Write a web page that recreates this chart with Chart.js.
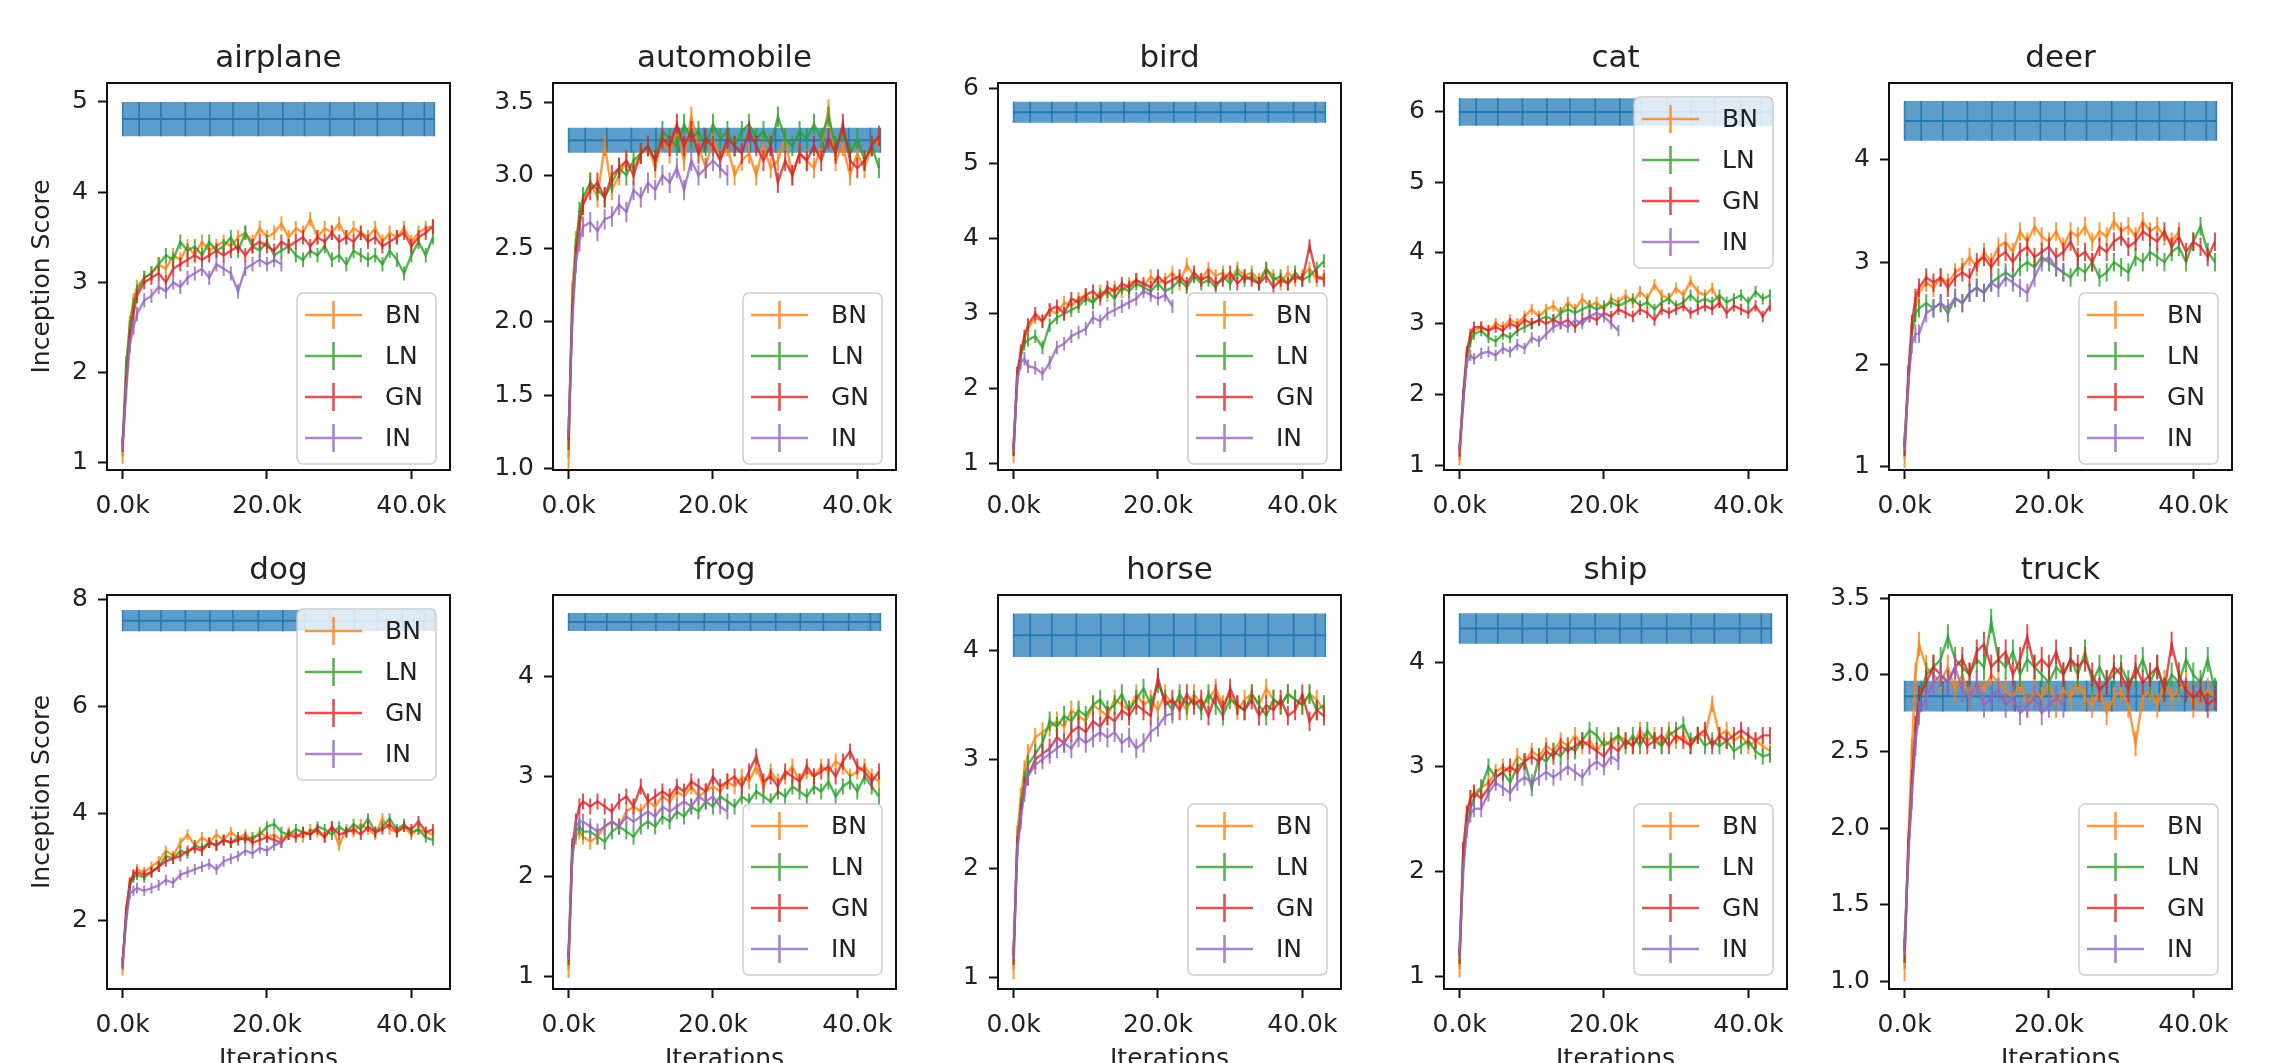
<!DOCTYPE html>
<html>
<head>
<meta charset="utf-8">
<script src="https://cdn.jsdelivr.net/npm/chart.js@4.4.1/dist/chart.umd.min.js"></script>
<style>
html, body { margin: 0; padding: 0; background: #fff; overflow: hidden; }
#fig { position: relative; width: 2277px; height: 1063px; overflow: hidden; background: #fff; }
#fig canvas { position: absolute; }
</style>
</head>
<body>
<div id="fig"></div>
<script>
// ---- data (iterations in thousands) ----
const classes = ['airplane', 'automobile', 'bird', 'cat', 'deer', 'dog', 'frog', 'horse', 'ship', 'truck'];
const seriesNames = ['BN', 'LN', 'GN', 'IN'];
const iters = [0, 0.5, 1, 1.5, 2, 3,
  4, 5, 6, 7, 8, 9, 10, 11, 12, 13,
  14, 15, 16, 17, 18, 19, 20, 21, 22, 23,
  24, 25, 26, 27, 28, 29, 30, 31, 32, 33,
  34, 35, 36, 37, 38, 39, 40, 41, 42, 43];
const realIters = [0, 2.3, 5.3, 8.7, 12.1, 15.3, 18.8, 22.2, 25.2, 28.7, 32.1, 35.3, 38.8, 41.8, 43.2];
const realMean = [4.81, 3.24, 5.68, 5.99, 4.38, 7.61, 4.54, 4.14, 4.32, 2.86];
const realStd = [0.19, 0.085, 0.14, 0.195, 0.195, 0.2, 0.09, 0.2, 0.145, 0.1];
const errSize = [0.08, 0.07, 0.09, 0.08, 0.09, 0.1, 0.08, 0.09, 0.08, 0.08];
const xTicks = [0, 20, 40];
const yMin = [0.92, 0.99, 0.92, 0.93, 0.97, 0.71, 0.88, 0.89, 0.88, 0.95];
const yMax = [5.21, 3.63, 6.07, 6.40, 4.75, 8.09, 4.81, 4.51, 4.64, 3.52];
const yTicks = [
  [1, 2, 3, 4, 5], [1, 1.5, 2, 2.5, 3, 3.5], [1, 2, 3, 4, 5, 6], [1, 2, 3, 4, 5, 6], [1, 2, 3, 4],
  [2, 4, 6, 8], [1, 2, 3, 4], [1, 2, 3, 4], [1, 2, 3, 4], [1, 1.5, 2, 2.5, 3, 3.5]
];
const yDecimals = [0, 1, 0, 0, 0, 0, 0, 0, 0, 1];

const airplaneBN = [1.07,2.0,2.55,2.8,2.95,3.05,
  3.1,3.2,3.15,3.3,3.25,3.4,3.3,3.45,3.35,3.4,
  3.45,3.4,3.5,3.55,3.45,3.6,3.5,3.55,3.65,3.5,
  3.6,3.55,3.7,3.5,3.6,3.55,3.65,3.5,3.6,3.55,
  3.5,3.6,3.45,3.55,3.5,3.6,3.45,3.55,3.6,3.62];
const airplaneLN = [1.2,2.1,2.5,2.75,2.9,3.05,
  3.1,3.2,3.3,3.25,3.45,3.35,3.4,3.3,3.45,3.35,
  3.4,3.5,3.35,3.55,3.4,3.35,3.45,3.3,3.35,3.4,
  3.3,3.25,3.35,3.3,3.4,3.25,3.3,3.2,3.35,3.3,
  3.25,3.3,3.2,3.35,3.25,3.1,3.3,3.45,3.3,3.5];
const airplaneGN = [1.2,1.9,2.4,2.65,2.85,3.0,
  3.05,3.1,3.0,3.15,3.2,3.25,3.3,3.25,3.3,3.35,
  3.3,3.35,3.4,3.3,3.4,3.45,3.4,3.35,3.45,3.4,
  3.45,3.5,3.4,3.5,3.45,3.55,3.45,3.5,3.45,3.55,
  3.45,3.5,3.4,3.45,3.5,3.55,3.4,3.5,3.55,3.62];
const airplaneIN = [1.2,1.8,2.3,2.5,2.65,2.8,
  2.85,2.95,2.9,3.0,2.95,3.05,3.1,3.15,3.05,3.2,
  3.15,3.1,2.9,3.15,3.2,3.25,3.2,3.25,3.2];

const automobileBN = [1.07,2.2,2.55,2.7,2.8,2.95,
  2.85,3.2,2.9,3.0,3.1,3.05,3.15,3.2,3.05,3.25,
  3.15,3.3,3.1,3.4,3.2,3.05,3.25,3.1,3.2,3.0,
  3.1,3.15,3.0,3.2,3.05,3.1,3.25,3.0,3.15,3.1,
  3.05,3.2,3.45,3.1,3.2,3.0,3.15,3.05,3.2,3.25];
const automobileLN = [1.2,2.1,2.5,2.75,2.85,2.95,
  2.9,2.85,2.95,3.05,3.0,3.1,3.15,3.2,3.1,3.3,
  3.25,3.2,3.35,3.25,3.3,3.2,3.35,3.25,3.3,3.2,
  3.3,3.35,3.25,3.3,3.2,3.4,3.25,3.2,3.3,3.25,
  3.35,3.25,3.4,3.2,3.3,3.15,3.25,3.1,3.2,3.05];
const automobileGN = [1.2,2.05,2.45,2.65,2.8,2.9,
  2.95,2.85,3.0,3.05,3.1,3.0,3.15,3.2,3.1,3.25,
  3.2,3.35,3.2,3.3,3.15,3.25,3.2,3.1,3.25,3.2,
  3.15,3.3,3.2,3.1,3.2,2.95,3.1,3.0,3.15,3.1,
  3.2,3.1,3.25,3.15,3.35,3.1,3.05,3.1,3.2,3.27];
const automobileIN = [1.28,2.0,2.4,2.55,2.65,2.68,
  2.62,2.7,2.72,2.8,2.75,2.9,2.85,2.95,2.9,3.0,
  2.95,3.05,2.9,3.1,3.0,3.05,3.1,3.05,3.0];

const birdBN = [1.1,2.2,2.45,2.65,2.8,2.95,
  2.9,3.05,3.0,3.15,3.1,3.2,3.25,3.15,3.3,3.25,
  3.35,3.3,3.4,3.45,3.35,3.5,3.4,3.45,3.55,3.4,
  3.65,3.5,3.45,3.6,3.5,3.55,3.45,3.6,3.5,3.55,
  3.45,3.6,3.5,3.4,3.55,3.45,3.5,3.6,3.45,3.5];
const birdLN = [1.2,2.15,2.45,2.6,2.65,2.7,
  2.55,2.85,2.95,3.0,3.05,3.1,3.2,3.15,3.25,3.3,
  3.2,3.35,3.3,3.4,3.35,3.3,3.4,3.3,3.35,3.45,
  3.35,3.5,3.4,3.45,3.35,3.5,3.4,3.55,3.45,3.5,
  3.4,3.6,3.45,3.5,3.4,3.55,3.45,3.5,3.6,3.7];
const birdGN = [1.2,2.2,2.5,2.7,2.85,3.0,
  2.9,3.05,3.1,3.0,3.2,3.15,3.25,3.3,3.2,3.35,
  3.3,3.4,3.35,3.45,3.4,3.35,3.5,3.4,3.45,3.5,
  3.4,3.55,3.45,3.5,3.4,3.45,3.55,3.4,3.5,3.45,
  3.4,3.5,3.35,3.45,3.4,3.5,3.45,3.9,3.5,3.45];
const birdIN = [1.25,2.1,2.35,2.4,2.3,2.28,
  2.2,2.35,2.55,2.6,2.7,2.75,2.8,2.95,2.9,3.0,
  3.05,3.1,3.15,3.2,3.3,3.25,3.2,3.25,3.1];

const catBN = [1.07,1.9,2.55,2.8,2.9,2.95,
  2.9,3.0,2.95,3.05,3.0,3.1,3.2,3.1,3.2,3.25,
  3.15,3.3,3.2,3.35,3.25,3.3,3.2,3.35,3.3,3.4,
  3.3,3.45,3.35,3.55,3.4,3.35,3.5,3.4,3.6,3.45,
  3.4,3.5,3.3];
const catLN = [1.2,1.95,2.5,2.75,2.85,2.9,
  2.8,2.75,2.85,2.8,2.9,2.95,3.0,3.05,3.1,3.05,
  3.15,3.2,3.15,3.2,3.25,3.2,3.25,3.3,3.25,3.3,
  3.35,3.25,3.3,3.2,3.3,3.35,3.25,3.3,3.4,3.3,
  3.35,3.3,3.4,3.3,3.35,3.4,3.3,3.45,3.35,3.4];
const catGN = [1.2,2.0,2.6,2.85,2.95,2.95,
  2.9,2.95,2.9,3.0,2.95,3.05,3.0,3.05,3.0,3.05,
  3.0,3.05,2.95,3.05,3.1,3.05,3.15,3.1,3.2,3.15,
  3.1,3.2,3.15,3.05,3.2,3.15,3.2,3.25,3.15,3.2,
  3.25,3.2,3.3,3.15,3.25,3.2,3.15,3.25,3.1,3.25];
const catIN = [1.25,1.9,2.45,2.55,2.5,2.58,
  2.6,2.55,2.65,2.6,2.7,2.65,2.8,2.75,2.85,2.95,
  3.0,2.95,3.05,3.0,3.1,3.15,3.1,3.0,2.9];

const deerBN = [1.08,1.8,2.3,2.55,2.7,2.8,
  2.75,2.85,2.8,2.9,2.95,3.05,2.95,3.1,3.0,3.15,
  3.2,3.1,3.3,3.2,3.35,3.25,3.2,3.3,3.15,3.3,
  3.25,3.35,3.2,3.3,3.25,3.4,3.3,3.35,3.25,3.4,
  3.3,3.35,3.25,3.2,3.3];
const deerLN = [1.2,1.85,2.3,2.5,2.55,2.6,
  2.55,2.6,2.5,2.65,2.6,2.7,2.75,2.7,2.8,2.85,
  2.9,2.85,2.95,3.0,2.95,3.05,3.0,2.95,2.9,2.85,
  2.95,2.9,3.0,2.85,2.9,3.0,2.95,2.9,3.05,3.0,
  3.1,3.05,3.0,3.1,3.15,3.0,3.2,3.35,3.1,3.0];
const deerGN = [1.2,1.9,2.4,2.65,2.75,2.85,
  2.8,2.85,2.75,2.85,2.9,2.85,3.0,3.05,2.95,3.05,
  3.1,3.0,3.1,3.15,3.05,3.1,3.15,3.05,3.1,3.2,
  3.05,3.1,3.0,3.15,3.1,3.2,3.25,3.15,3.2,3.3,
  3.25,3.2,3.3,3.15,3.25,3.1,3.2,3.15,3.05,3.2];
const deerIN = [1.25,1.8,2.2,2.3,2.3,2.5,
  2.55,2.6,2.55,2.65,2.6,2.7,2.75,2.7,2.8,2.75,
  2.85,2.8,2.75,2.7,2.85,3.0,3.05,2.95,2.9];

const dogBN = [1.06,2.2,2.7,2.85,2.95,2.9,
  3.0,3.1,3.3,3.2,3.45,3.6,3.4,3.55,3.45,3.6,
  3.5,3.65,3.55,3.6,3.5,3.65,3.55,3.6,3.5,3.65,
  3.6,3.55,3.7,3.65,3.55,3.75,3.4,3.7,3.65,3.8,
  3.7,3.6,3.9,3.7,3.65,3.75,3.6,3.7,3.65,3.6];
const dogLN = [1.2,2.1,2.65,2.8,2.85,2.8,
  2.9,3.0,3.2,3.15,3.3,3.25,3.4,3.35,3.45,3.4,
  3.5,3.45,3.55,3.5,3.55,3.6,3.75,3.8,3.65,3.6,
  3.7,3.65,3.6,3.75,3.7,3.6,3.75,3.65,3.8,3.7,
  3.9,3.65,3.75,3.9,3.7,3.8,3.65,3.7,3.55,3.5];
const dogGN = [1.2,2.15,2.7,2.85,2.9,2.85,
  2.9,3.0,3.1,3.15,3.2,3.3,3.35,3.3,3.45,3.4,
  3.5,3.45,3.5,3.55,3.45,3.5,3.55,3.5,3.45,3.6,
  3.55,3.65,3.6,3.7,3.55,3.75,3.6,3.65,3.7,3.6,
  3.75,3.65,3.7,3.8,3.65,3.75,3.7,3.85,3.65,3.7];
const dogIN = [1.2,2.0,2.5,2.55,2.6,2.55,
  2.6,2.65,2.75,2.7,2.85,2.9,2.95,3.0,3.05,2.95,
  3.1,3.15,3.2,3.3,3.25,3.35,3.3,3.4,3.45];

const frogBN = [1.07,2.25,2.4,2.45,2.4,2.35,
  2.4,2.5,2.55,2.5,2.65,2.7,2.65,2.75,2.7,2.8,
  2.75,2.85,2.8,2.9,2.8,2.85,2.9,2.85,2.95,2.9,
  3.0,2.95,3.1,2.9,3.05,2.95,3.0,3.1,2.95,3.05,
  3.0,3.1,3.05,3.15,3.1,3.0,3.05,3.1,3.0,2.95];
const frogLN = [1.2,2.2,2.45,2.5,2.45,2.45,
  2.4,2.35,2.45,2.5,2.45,2.4,2.5,2.55,2.5,2.6,
  2.55,2.65,2.6,2.7,2.65,2.75,2.7,2.8,2.75,2.7,
  2.8,2.75,2.85,2.8,2.75,2.85,2.8,2.9,2.85,2.8,
  2.9,2.85,2.95,2.8,2.9,2.95,2.85,3.0,2.9,2.8];
const frogGN = [1.2,2.3,2.55,2.7,2.75,2.7,
  2.75,2.7,2.65,2.75,2.8,2.7,2.9,2.75,2.8,2.85,
  2.8,2.9,2.85,2.95,2.9,2.85,3.0,2.9,2.95,3.0,
  2.9,3.05,3.2,2.95,3.0,2.9,3.05,3.0,2.95,3.1,
  3.0,3.05,3.1,3.0,3.15,3.25,3.1,3.05,2.95,3.05];
const frogIN = [1.25,2.2,2.5,2.55,2.55,2.5,
  2.45,2.5,2.55,2.5,2.6,2.55,2.6,2.65,2.6,2.7,
  2.65,2.7,2.75,2.7,2.8,2.75,2.8,2.7,2.65];

const horseBN = [1.07,2.3,2.65,2.9,3.05,3.2,
  3.25,3.3,3.35,3.3,3.45,3.4,3.35,3.5,3.45,3.4,
  3.55,3.5,3.45,3.6,3.5,3.55,3.45,3.6,3.5,3.55,
  3.45,3.6,3.5,3.55,3.65,3.5,3.6,3.45,3.55,3.6,
  3.5,3.65,3.55,3.5,3.6,3.55,3.5,3.6,3.55,3.45];
const horseLN = [1.2,2.2,2.55,2.8,2.95,3.05,
  3.15,3.35,3.3,3.4,3.35,3.45,3.4,3.5,3.55,3.45,
  3.5,3.6,3.45,3.55,3.65,3.5,3.7,3.55,3.45,3.6,
  3.5,3.55,3.45,3.6,3.5,3.4,3.55,3.5,3.45,3.6,
  3.5,3.4,3.55,3.5,3.6,3.55,3.5,3.6,3.45,3.5];
const horseGN = [1.2,2.2,2.5,2.75,2.85,3.0,
  3.05,3.1,3.2,3.15,3.25,3.3,3.25,3.35,3.3,3.4,
  3.35,3.45,3.4,3.5,3.45,3.4,3.75,3.5,3.55,3.45,
  3.6,3.5,3.55,3.4,3.6,3.45,3.65,3.5,3.45,3.55,
  3.4,3.5,3.45,3.55,3.4,3.45,3.6,3.35,3.45,3.4];
const horseIN = [1.25,2.15,2.45,2.7,2.85,2.95,
  3.0,3.05,3.1,3.15,3.1,3.2,3.15,3.2,3.25,3.2,
  3.25,3.15,3.2,3.1,3.15,3.25,3.3,3.4,3.42];

const shipBN = [1.07,2.2,2.55,2.7,2.75,2.8,
  2.85,2.95,3.0,2.95,3.1,3.05,3.15,3.1,3.2,3.15,
  3.25,3.2,3.3,3.2,3.25,3.15,3.25,3.2,3.3,3.25,
  3.2,3.35,3.25,3.3,3.2,3.35,3.25,3.3,3.2,3.3,
  3.3,3.6,3.3,3.35,3.25,3.3,3.2,3.25,3.2,3.15];
const shipLN = [1.2,2.1,2.45,2.6,2.7,2.8,
  3.0,2.9,2.95,2.85,3.0,3.05,2.8,3.1,3.05,3.15,
  3.1,3.2,3.15,3.25,3.35,3.3,3.2,3.25,3.3,3.2,
  3.3,3.2,3.35,3.25,3.2,3.3,3.35,3.4,3.25,3.3,
  3.2,3.25,3.2,3.25,3.15,3.2,3.25,3.15,3.1,3.12];
const shipGN = [1.2,2.2,2.55,2.7,2.75,2.7,
  2.8,2.9,2.95,3.0,2.95,3.05,3.1,3.05,3.15,3.1,
  3.2,3.15,3.2,3.25,3.2,3.15,3.1,3.2,3.15,3.25,
  3.2,3.3,3.2,3.25,3.3,3.2,3.3,3.25,3.2,3.3,
  3.35,3.2,3.3,3.25,3.3,3.35,3.3,3.25,3.3,3.3];
const shipIN = [1.25,2.0,2.4,2.55,2.6,2.6,
  2.75,2.85,2.8,2.75,2.85,2.9,2.85,2.9,2.95,2.9,
  2.95,3.0,2.95,2.9,3.0,3.05,3.0,3.1,3.05];

const truckBN = [1.08,1.9,2.5,3.0,3.2,3.05,
  3.0,2.95,3.05,2.9,3.0,2.85,2.95,2.9,3.0,2.95,
  2.9,2.85,2.95,2.8,2.9,2.85,2.95,2.8,2.9,2.85,
  2.95,2.85,2.8,2.9,2.75,2.85,2.9,2.8,2.55,2.85,
  2.9,2.8,2.95,2.85,2.9,2.95,2.8,2.85,2.9,2.85];
const truckLN = [1.2,1.85,2.25,2.6,2.85,3.0,
  3.05,3.1,3.25,3.1,3.05,3.0,3.1,3.05,3.35,3.1,
  3.05,3.15,3.0,3.1,3.05,3.0,2.95,3.05,3.0,3.1,
  3.0,3.15,2.95,3.05,2.95,3.0,3.05,2.95,3.0,3.1,
  2.95,3.05,2.9,3.0,2.95,3.1,3.0,2.95,3.1,2.9];
const truckGN = [1.2,1.85,2.3,2.65,2.85,2.95,
  3.05,3.0,2.95,3.05,3.1,3.0,3.15,3.2,3.05,3.1,
  3.15,3.0,3.1,3.25,3.05,3.1,3.05,3.15,3.0,3.1,
  3.05,3.1,3.0,2.9,2.95,3.05,3.0,2.9,3.05,2.95,
  3.0,3.05,2.9,3.2,3.0,2.9,2.85,2.9,2.8,2.85];
const truckIN = [1.25,1.8,2.2,2.55,2.75,2.85,
  2.95,3.0,2.95,3.05,2.9,2.85,2.95,2.8,2.85,2.9,
  2.8,2.85,2.75,2.8,2.85,2.75,2.8,2.85,2.8];

const panelSeries = {
  airplane: [airplaneBN, airplaneLN, airplaneGN, airplaneIN],
  automobile: [automobileBN, automobileLN, automobileGN, automobileIN],
  bird: [birdBN, birdLN, birdGN, birdIN],
  cat: [catBN, catLN, catGN, catIN],
  deer: [deerBN, deerLN, deerGN, deerIN],
  dog: [dogBN, dogLN, dogGN, dogIN],
  frog: [frogBN, frogLN, frogGN, frogIN],
  horse: [horseBN, horseLN, horseGN, horseIN],
  ship: [shipBN, shipLN, shipGN, shipIN],
  truck: [truckBN, truckLN, truckGN, truckIN]
};

// ---- layout / style ----
const colLeft = [107, 553, 998, 1444, 1889];
const rowTop = [83, 595];
const rowHeight = [387, 394];
const boxWidth = 343;
const PAD_L = 100, PAD_R = 12, PAD_T = 60, PAD_B = 80;
const seriesColors = ['rgba(255,127,14,0.8)', 'rgba(44,160,44,0.8)', 'rgba(214,39,40,0.8)', 'rgba(148,103,189,0.8)'];
const legendCorner = ['lower', 'lower', 'lower', 'upper', 'lower', 'upper', 'lower', 'lower', 'lower', 'lower'];
const FONT = '"DejaVu Sans", "Liberation Sans", sans-serif';
const TEXT = '#222';

Chart.defaults.font.family = FONT;

const decor = {
    id: 'decor',
    afterDatasetDraw(chart, args) {
        const ds = chart.data.datasets[args.index];
        if (!ds.err) return;
        const y = chart.scales.y;
        const a = chart.chartArea;
        const ctx = chart.ctx;
        ctx.save();
        ctx.beginPath();
        ctx.rect(a.left, a.top, a.right - a.left, a.bottom - a.top);
        ctx.clip();
        ctx.strokeStyle = ds.borderColor;
        ctx.lineWidth = ds.errWidth || 2;
        ctx.beginPath();
        ds.data.forEach((p, i) => {
            const pt = args.meta.data[i];
            ctx.moveTo(pt.x, y.getPixelForValue(p.y - ds.err));
            ctx.lineTo(pt.x, y.getPixelForValue(p.y + ds.err));
        });
        ctx.stroke();
        ctx.restore();
    },
    afterDraw(chart, args, o) {
        const ctx = chart.ctx;
        const a = chart.chartArea;
        const cx = (a.left + a.right) / 2;
        ctx.save();

        // legend
        const items = chart.data.datasets.filter(d => d.inLegend);
        const lw = 139, lh = 171;
        const lx = a.right - 14 - lw;
        const ly = o.corner === 'upper' ? a.top + 14 : a.bottom - o.inset - lh;
        ctx.beginPath();
        ctx.roundRect(lx, ly, lw, lh, 6);
        ctx.fillStyle = 'rgba(255,255,255,0.8)';
        ctx.fill();
        ctx.strokeStyle = 'rgba(200,200,200,0.9)';
        ctx.lineWidth = 1.5;
        ctx.stroke();
        ctx.font = '25px ' + FONT;
        items.forEach((d, i) => {
            const cy = ly + 22 + i * 41;
            ctx.strokeStyle = d.borderColor;
            ctx.lineWidth = 2.6;
            ctx.beginPath();
            ctx.moveTo(lx + 8, cy);
            ctx.lineTo(lx + 65, cy);
            ctx.moveTo(lx + 36.5, cy - 14);
            ctx.lineTo(lx + 36.5, cy + 14);
            ctx.stroke();
            ctx.fillStyle = TEXT;
            ctx.textAlign = 'left';
            ctx.textBaseline = 'middle';
            ctx.fillText(d.label, lx + 88, cy + 1);
        });

        // frame
        ctx.strokeStyle = '#111';
        ctx.lineWidth = 2;
        ctx.strokeRect(a.left, a.top, a.right - a.left, a.bottom - a.top);

        // title and axis labels
        ctx.fillStyle = TEXT;
        ctx.textAlign = 'center';
        ctx.textBaseline = 'alphabetic';
        ctx.font = '31px ' + FONT;
        ctx.fillText(o.title, cx, a.top - 16);
        ctx.font = '25px ' + FONT;
        if (o.xLabel) {
            ctx.textBaseline = 'middle';
            ctx.fillText(o.xLabel, cx, a.bottom + 70);
        }
        if (o.yLabel) {
            ctx.translate(o.yLabelX, (a.top + a.bottom) / 2);
            ctx.rotate(-Math.PI / 2);
            ctx.textBaseline = 'middle';
            ctx.fillText(o.yLabel, 0, 0);
        }
        ctx.restore();
    }
};

const fig = document.getElementById('fig');

classes.forEach((name, p) => {
    const row = Math.floor(p / 5), col = p % 5;
    const h = rowHeight[row];
    const w = PAD_L + boxWidth + PAD_R, ht = PAD_T + h + PAD_B;
    const canvas = document.createElement('canvas');
    canvas.width = w;
    canvas.height = ht;
    canvas.style.width = w + 'px';
    canvas.style.height = ht + 'px';
    canvas.style.left = (colLeft[col] - PAD_L) + 'px';
    canvas.style.top = (rowTop[row] - PAD_T) + 'px';
    fig.appendChild(canvas);

    const m = realMean[p], s = realStd[p];
    const datasets = [
        {
            label: 'real+', data: realIters.map(x => ({x: x, y: m + s})),
            borderWidth: 0, pointRadius: 0, fill: '+1',
            backgroundColor: 'rgba(31,119,180,0.72)', order: 12
        },
        {
            label: 'real-', data: realIters.map(x => ({x: x, y: m - s})),
            borderWidth: 0, pointRadius: 0, fill: false, order: 11
        },
        {
            label: 'real', data: realIters.map(x => ({x: x, y: m})),
            borderColor: 'rgba(31,119,180,0.9)', borderWidth: 2, pointRadius: 0,
            fill: false, err: s, errWidth: 1.6, order: 10
        }
    ];
    panelSeries[name].forEach((vals, k) => {
        datasets.push({
            label: seriesNames[k],
            data: vals.map((v, i) => ({x: iters[i], y: v})),
            borderColor: seriesColors[k],
            borderWidth: 2.4,
            pointRadius: 0,
            tension: 0,
            fill: false,
            err: errSize[p],
            inLegend: true,
            order: 4 - k
        });
    });

    new Chart(canvas, {
        type: 'line',
        data: {datasets: datasets},
        plugins: [decor],
        options: {
            responsive: false,
            animation: false,
            devicePixelRatio: 1,
            events: [],
            layout: {padding: {left: 0, right: PAD_R, top: PAD_T, bottom: 0}},
            plugins: {
                legend: {display: false},
                tooltip: {enabled: false},
                title: {display: false},
                decor: {
                    title: name,
                    corner: legendCorner[p],
                    inset: row === 0 ? 6 : 14,
                    xLabel: row === 1 ? 'Iterations' : '',
                    yLabel: col === 0 ? 'Inception Score' : '',
                    yLabelX: 42 - (colLeft[0] - PAD_L)
                }
            },
            scales: {
                x: {
                    type: 'linear',
                    min: -2.16,
                    max: 45.36,
                    afterFit: sc => { sc.height = PAD_B; },
                    afterBuildTicks: sc => { sc.ticks = xTicks.map(v => ({value: v})); },
                    ticks: {
                        callback: v => v.toFixed(1) + 'k',
                        font: {size: 25},
                        color: TEXT,
                        padding: 12,
                        maxRotation: 0,
                        autoSkip: false
                    },
                    grid: {drawOnChartArea: false, drawTicks: true, tickLength: 9, tickColor: '#111', tickWidth: 2},
                    border: {display: false}
                },
                y: {
                    type: 'linear',
                    min: yMin[p],
                    max: yMax[p],
                    afterFit: sc => { sc.width = PAD_L; },
                    afterBuildTicks: sc => { sc.ticks = yTicks[p].map(v => ({value: v})); },
                    ticks: {
                        callback: v => v.toFixed(yDecimals[p]),
                        font: {size: 25},
                        color: TEXT,
                        padding: 10,
                        autoSkip: false
                    },
                    grid: {drawOnChartArea: false, drawTicks: true, tickLength: 9, tickColor: '#111', tickWidth: 2},
                    border: {display: false}
                }
            }
        }
    });
});
</script>
</body>
</html>
